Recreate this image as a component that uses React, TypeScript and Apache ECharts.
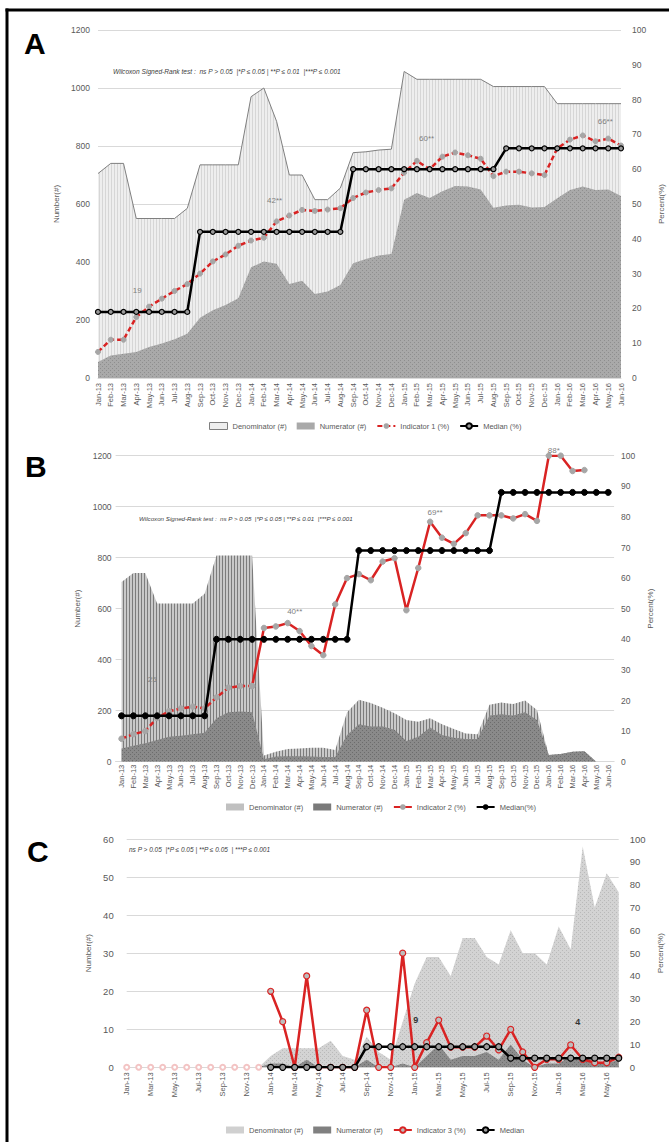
import React, { useEffect, useRef } from 'react';
import * as echarts from 'echarts';

// ---------- categories ----------
const months = [
  'Jan-13', 'Feb-13', 'Mar-13', 'Apr-13', 'May-13', 'Jun-13', 'Jul-13', 'Aug-13', 'Sep-13', 'Oct-13', 'Nov-13', 'Dec-13',
  'Jan-14', 'Feb-14', 'Mar-14', 'Apr-14', 'May-14', 'Jun-14', 'Jul-14', 'Aug-14', 'Sep-14', 'Oct-14', 'Nov-14', 'Dec-14',
  'Jan-15', 'Feb-15', 'Mar-15', 'Apr-15', 'May-15', 'Jun-15', 'Jul-15', 'Aug-15', 'Sep-15', 'Oct-15', 'Nov-15', 'Dec-15',
  'Jan-16', 'Feb-16', 'Mar-16', 'Apr-16', 'May-16', 'Jun-16',
];

// ---------- Panel A ----------
const denominatorA = [705, 740, 740, 550, 550, 550, 550, 585, 735, 735, 735, 735,
  970, 1000, 885, 700, 700, 615, 615, 655, 777, 780, 786, 789,
  1057, 1030, 1030, 1030, 1030, 1030, 1030, 1005, 1005, 1005, 1005, 1005,
  946, 946, 946, 946, 946, 946];
const numeratorA = [55, 78, 84, 90, 107, 119, 134, 153, 208, 234, 252, 275,
  382, 402, 394, 324, 335, 290, 298, 321, 396, 410, 422, 428,
  615, 638, 621, 644, 662, 660, 650, 587, 595, 597, 588, 590,
  620, 648, 660, 648, 650, 628];
const indicatorA = [7.5, 11, 11, 17.5, 20.5, 22.8, 25, 27, 30, 33.5, 35.5, 38,
  39.5, 40.3, 45, 46.7, 48.3, 48, 48.4, 48.8, 51.7, 53.3, 54, 54.5,
  59, 62.4, 60, 63.6, 64.8, 64, 63, 58, 59.3, 59.3, 58.8, 58.3,
  66, 68.5, 69.7, 68, 68.8, 66.8];
const medianA = [19, 19, 19, 19, 19, 19, 19, 19, 42, 42, 42, 42,
  42, 42, 42, 42, 42, 42, 42, 42, 60, 60, 60, 60,
  60, 60, 60, 60, 60, 60, 60, 60, 66, 66, 66, 66,
  66, 66, 66, 66, 66, 66];
const annotationsA = [
  { index: 3, text: '19' }, { index: 14, text: '42**' }, { index: 26, text: '60**' }, { index: 40, text: '66**' },
];

// ---------- Panel B ----------
const denominatorB = [705, 740, 740, 620, 620, 620, 620, 659, 809, 809, 809, 809,
  24, 39, 50, 52, 55, 55, 46, 194, 243, 230, 212, 190,
  164, 157, 170, 147, 128, 111, 108, 223, 232, 226, 240, 203,
  26, 30, 39, 41, 0, 0];
const numeratorB = [52, 63, 72, 85, 98, 102, 108, 114, 170, 194, 197, 194,
  10, 20, 21, 21, 20, 18, 18, 105, 147, 138, 138, 125,
  81, 98, 134, 105, 94, 89, 89, 181, 186, 181, 194, 164,
  26, 30, 39, 41, 0, 0];
const indicatorB = [7.5, 9, 10, 14.3, 16.5, 17.4, 18, 17.4, 21, 24.2, 24.7, 24.7,
  43.7, 44.2, 45.3, 42.7, 37.8, 34.8, 51.4, 60, 61.3, 59.3, 65.4, 66.5,
  49.5, 63.3, 78.4, 73.2, 71.2, 74.7, 80.5, 80.5, 80.5, 79.5, 80.9, 78.7,
  100, 100, 95, 95.3, null, null];
const medianB = [15, 15, 15, 15, 15, 15, 15, 15, 40, 40, 40, 40,
  40, 40, 40, 40, 40, 40, 40, 40, 69, 69, 69, 69,
  69, 69, 69, 69, 69, 69, 69, 69, 88, 88, 88, 88,
  88, 88, 88, 88, 88, 88];
const annotationsB = [
  { index: 3, text: '25' }, { index: 14, text: '40**' }, { index: 26, text: '69**' }, { index: 36, text: '88*' },
];

// ---------- Panel C ----------
const denominatorC = [0, 0, 0, 0, 0, 0, 0, 0, 0, 0, 0, 0,
  3, 5, 5, 5, 5, 7, 3, 2, 8, 4, 2, 12,
  22, 29, 29, 24, 34, 34, 29, 27, 36, 30, 30, 27,
  37, 31, 58, 42, 51, 46];
const numeratorC = [0, 0, 0, 0, 0, 0, 0, 0, 0, 0, 0, 0,
  1, 1, 0, 2, 0, 0, 0, 0, 2, 0, 0, 1,
  0, 3, 6, 2, 3, 3, 4, 2, 6, 2, 0, 1,
  1, 3, 2, 1, 1, 2];
const indicatorC = [0, 0, 0, 0, 0, 0, 0, 0, 0, 0, 0, 0,
  33.3, 20, 0, 40, 0, 0, 0, 0, 25, 0, 0, 50,
  0, 10.8, 20.7, 8.8, 8.8, 8.8, 13.7, 7.6, 16.6, 6.7, 0, 3.5,
  3.5, 9.8, 3.5, 2, 2, 4.4];
const medianC = [null, null, null, null, null, null, null, null, null, null, null, null,
  0, 0, 0, 0, 0, 0, 0, 0, 9, 9, 9, 9,
  9, 9, 9, 9, 9, 9, 9, 9, 4, 4, 4, 4,
  4, 4, 4, 4, 4, 4];
const annotationsC = [{ index: 24, text: '9' }, { index: 38, text: '4' }];

const wilcoxonText = 'Wilcoxon Signed-Rank test :  ns P > 0.05  |*P ≤ 0.05 | **P ≤ 0.01  |***P ≤ 0.001';
const pText = 'ns P > 0.05  |*P ≤ 0.05 | **P ≤ 0.05  | ***P ≤ 0.001';

// ---------- styles ----------
const FONT = '"Liberation Sans", Arial, sans-serif';
const GRID = '#d9d9d9';
const LABEL = '#595959';
const RED = '#d92323';

const offsetsA = [[1, -14], [-2, -24], [-3, -24], [-3, -20]];
const offsetsB = [[-5, -29], [7, -20], [5, -31], [5, -34]];
const offsetsC = [[1, -19], [-5, -28]];

function makePattern(bg: string, fg: string, kind: string) {
  const size = kind === 'dots' ? 4 : kind === 'dense' ? 2 : 3;
  const c = document.createElement('canvas');
  c.width = size;
  c.height = size;
  const ctx = c.getContext('2d');
  if (ctx) {
    ctx.fillStyle = bg;
    ctx.fillRect(0, 0, size, size);
    ctx.fillStyle = fg;
    if (kind === 'dots') {
      ctx.fillRect(0, 0, 1, 1);
      ctx.fillRect(2, 2, 1, 1);
    } else {
      ctx.fillRect(0, 0, 1, size);
    }
  }
  return { image: c.toDataURL(), repeat: 'repeat', imageWidth: size, imageHeight: size };
}

function labelled(values: any[], ann: { index: number; text: string }[], offsets: number[][], style: any) {
  return values.map((v, i) => {
    const k = ann.findIndex((a) => a.index === i);
    if (k < 0) return v;
    return {
      value: v,
      label: { show: true, position: 'top', distance: 0, formatter: ann[k].text, offset: offsets[k], ...style },
    };
  });
}

function xAxis(gridIndex: number, boundaryGap: boolean, interval: number, margin: number) {
  return {
    type: 'category', gridIndex, data: months, boundaryGap,
    axisLine: { lineStyle: { color: GRID } },
    axisTick: { show: false },
    axisLabel: { rotate: 90, fontSize: 7.5, color: LABEL, interval, margin, fontFamily: FONT },
  };
}

function yAxis(gridIndex: number, side: 'left' | 'right', max: number, interval: number, name: string,
  nameGap: number, margin: number, fontSize: number, split: boolean) {
  return {
    type: 'value', gridIndex, position: side, min: 0, max, interval,
    name, nameLocation: 'middle', nameGap,
    nameTextStyle: { fontSize: 8, color: LABEL, fontFamily: FONT },
    axisLine: { show: false }, axisTick: { show: false },
    axisLabel: { fontSize, color: LABEL, margin, fontFamily: FONT, formatter: (v: number) => String(v) },
    splitLine: { show: split, lineStyle: { color: GRID, width: 1 } },
  };
}

function App() {
  const ref = useRef<HTMLDivElement>(null);
  useEffect(() => {
    if (!ref.current) return;
    const chart = echarts.init(ref.current, null, { renderer: 'svg' });

    const patDenA = makePattern('#eeeeee', '#d6d6d6', 'v');
    const patNumA = makePattern('#a9a9a9', '#8e8e8e', 'dots');
    const patDenB = makePattern('#c9c9c9', '#7c7c7c', 'v');
    const patNumB = makePattern('#8a8a8a', '#6c6c6c', 'dots');
    const patDenC = makePattern('#d3d3d3', '#b9b9b9', 'dots');
    const patNumC = makePattern('#8c8c8c', '#6e6e6e', 'dots');

    const annStyle = { fontSize: 8, color: '#7f7f7f', fontFamily: FONT };
    const annStyleC = { fontSize: 9, color: '#333333', fontWeight: 'bold', fontFamily: FONT };

    const legendBase = {
      orient: 'horizontal', itemWidth: 18, itemHeight: 7, itemGap: 10,
      textStyle: { fontSize: 7.5, color: LABEL, fontFamily: FONT },
      formatter: (n: string) => n.split('|')[0],
      selectedMode: false,
    };

    const areaSeries = (name: string, data: number[], xi: number, yi: number, pat: any, color: string, outline: boolean) => ({
      name, type: 'line', xAxisIndex: xi, yAxisIndex: yi, data,
      symbol: 'none', showSymbol: false,
      lineStyle: outline ? { color: '#7f7f7f', width: 1 } : { width: 0, color },
      itemStyle: { color },
      areaStyle: { color: pat, opacity: 1 },
      silent: true, z: 1,
    });

    const option: any = {
      animation: false,
      textStyle: { fontFamily: FONT },
      grid: [
        { left: 98, top: 30, width: 523, height: 348, outerBoundsMode: 'none' },
        { left: 115.6, top: 455.7, width: 498.5, height: 306, outerBoundsMode: 'none' },
        { left: 126.7, top: 839, width: 492, height: 228.3, outerBoundsMode: 'none' },
      ],
      xAxis: [xAxis(0, false, 0, 5), xAxis(1, true, 0, 3), xAxis(2, false, 1, 5)],
      yAxis: [
        yAxis(0, 'left', 1200, 200, 'Number(#)', 31, 8, 8.5, true),
        yAxis(0, 'right', 100, 10, 'Percent(%)', 31, 11, 8.5, false),
        yAxis(1, 'left', 1200, 200, 'Number(#)', 18, 4, 8.5, true),
        yAxis(1, 'right', 100, 10, 'Percent(%)', 25, 7, 8.5, false),
        yAxis(2, 'left', 60, 10, 'Number(#)', 27, 13, 9.5, true),
        yAxis(2, 'right', 100, 10, 'Percent(%)', 34, 11, 9.5, false),
      ],
      legend: [
        {
          ...legendBase, left: 204, top: 417,
          data: [
            { name: 'Denominator (#)|A', icon: 'rect', itemStyle: { color: '#eeeeee', borderColor: '#7f7f7f', borderWidth: 1 } },
            { name: 'Numerator (#)|A', icon: 'rect', itemStyle: { color: '#a9a9a9', borderWidth: 0 } },
            'Indicator 1 (%)', 'Median (%)',
          ],
        },
        {
          ...legendBase, left: 221, top: 798,
          data: [
            { name: 'Denominator (#)|B', icon: 'rect', itemStyle: { color: '#c0c0c0', borderWidth: 0 } },
            { name: 'Numerator (#)|B', icon: 'rect', itemStyle: { color: '#7a7a7a', borderWidth: 0 } },
            'Indicator 2 (%)', 'Median(%)',
          ],
        },
        {
          ...legendBase, left: 221, top: 1121,
          data: [
            { name: 'Denominator (#)|C', icon: 'rect', itemStyle: { color: '#d0d0d0', borderWidth: 0 } },
            { name: 'Numerator (#)|C', icon: 'rect', itemStyle: { color: '#808080', borderWidth: 0 } },
            'Indicator 3 (%)', 'Median',
          ],
        },
      ],
      series: [
        // Panel A
        areaSeries('Denominator (#)|A', denominatorA, 0, 0, patDenA, '#eeeeee', true),
        areaSeries('Numerator (#)|A', numeratorA, 0, 0, patNumA, '#a9a9a9', false),
        {
          name: 'Indicator 1 (%)', type: 'line', xAxisIndex: 0, yAxisIndex: 1, data: indicatorA,
          symbol: 'circle', symbolSize: 5, showSymbol: true,
          lineStyle: { color: RED, width: 2.5, type: [5, 3] },
          itemStyle: { color: '#a6a6a6', borderColor: '#a6a6a6' }, z: 3,
        },
        {
          name: 'Median (%)', type: 'line', xAxisIndex: 0, yAxisIndex: 1,
          data: labelled(medianA, annotationsA, offsetsA, annStyle),
          symbol: 'circle', symbolSize: 5, showSymbol: true,
          lineStyle: { color: '#000', width: 2.5 },
          itemStyle: { color: '#9a9a9a', borderColor: '#000', borderWidth: 1.2 }, z: 4,
        },
        // Panel B
        areaSeries('Denominator (#)|B', denominatorB, 1, 2, patDenB, '#c0c0c0', false),
        areaSeries('Numerator (#)|B', numeratorB, 1, 2, patNumB, '#7a7a7a', false),
        {
          name: 'Indicator 2 (%)', type: 'line', xAxisIndex: 1, yAxisIndex: 3,
          data: indicatorB.map((v, i) => (i >= 11 ? v : null)),
          symbol: 'circle', symbolSize: 5.5, showSymbol: true,
          lineStyle: { color: RED, width: 2.5 },
          itemStyle: { color: '#a6a6a6', borderColor: '#a6a6a6' }, z: 3,
        },
        {
          name: 'Indicator 2 (%)|dashed', type: 'line', xAxisIndex: 1, yAxisIndex: 3,
          data: indicatorB.map((v, i) => (i <= 11 ? v : null)),
          symbol: 'circle', symbolSize: 5.5, showSymbol: true,
          lineStyle: { color: RED, width: 2.5, type: [5, 3] },
          itemStyle: { color: '#a6a6a6', borderColor: '#a6a6a6' }, z: 3,
        },
        {
          name: 'Median(%)', type: 'line', xAxisIndex: 1, yAxisIndex: 3,
          data: labelled(medianB, annotationsB, offsetsB, annStyle),
          symbol: 'circle', symbolSize: 6, showSymbol: true,
          lineStyle: { color: '#000', width: 2.5 },
          itemStyle: { color: '#000', borderColor: '#000' }, z: 4,
        },
        // Panel C
        areaSeries('Denominator (#)|C', denominatorC, 2, 4, patDenC, '#d0d0d0', false),
        areaSeries('Numerator (#)|C', numeratorC, 2, 4, patNumC, '#808080', false),
        {
          name: 'Indicator 3 (%)|faint', type: 'line', xAxisIndex: 2, yAxisIndex: 5,
          data: indicatorC.map((v, i) => (i < 12 ? v : null)),
          symbol: 'emptyCircle', symbolSize: 5, showSymbol: true,
          lineStyle: { opacity: 0, width: 0 },
          itemStyle: { color: '#f3c4c4', borderColor: '#f3c4c4', borderWidth: 1 }, z: 2,
        },
        {
          name: 'Indicator 3 (%)', type: 'line', xAxisIndex: 2, yAxisIndex: 5,
          data: indicatorC.map((v, i) => (i >= 12 ? v : null)),
          symbol: 'circle', symbolSize: 6, showSymbol: true,
          lineStyle: { color: RED, width: 2.5 },
          itemStyle: { color: '#bdbdbd', borderColor: RED, borderWidth: 1.2 }, z: 3,
        },
        {
          name: 'Median', type: 'line', xAxisIndex: 2, yAxisIndex: 5,
          data: labelled(medianC, annotationsC, offsetsC, annStyleC),
          symbol: 'circle', symbolSize: 6, showSymbol: true,
          lineStyle: { color: '#000', width: 2.5 },
          itemStyle: { color: '#9a9a9a', borderColor: '#000', borderWidth: 1.2 }, z: 4,
        },
      ],
      graphic: [
        { type: 'line', silent: true, shape: { x1: 5.5, y1: 10, x2: 669, y2: 10 }, style: { stroke: '#000', lineWidth: 3 } },
        { type: 'line', silent: true, shape: { x1: 7, y1: 8.5, x2: 7, y2: 1142 }, style: { stroke: '#000', lineWidth: 3 } },
        { type: 'text', x: 24, y: 43, style: { text: 'A', fontSize: 30, fontWeight: 'bold', fontFamily: FONT, fill: '#000', verticalAlign: 'middle' } },
        { type: 'text', x: 25, y: 466, style: { text: 'B', fontSize: 30, fontWeight: 'bold', fontFamily: FONT, fill: '#000', verticalAlign: 'middle' } },
        { type: 'text', x: 27, y: 851, style: { text: 'C', fontSize: 30, fontWeight: 'bold', fontFamily: FONT, fill: '#000', verticalAlign: 'middle' } },
        { type: 'text', x: 113, y: 71, style: { text: wilcoxonText, fontSize: 6.6, fontStyle: 'italic', fontFamily: FONT, fill: '#404040', verticalAlign: 'middle' } },
        { type: 'text', x: 139, y: 518, style: { text: wilcoxonText, fontSize: 6.2, fontStyle: 'italic', fontFamily: FONT, fill: '#404040', verticalAlign: 'middle' } },
        { type: 'text', x: 129, y: 849, style: { text: pText, fontSize: 6.5, fontStyle: 'italic', fontFamily: FONT, fill: '#404040', verticalAlign: 'middle' } },
      ],
    };
    chart.setOption(option);
    return () => chart.dispose();
  }, []);
  return (
    <div
      ref={ref}
      style={{ position: 'absolute', left: 0, top: 0, width: 669, height: 1142, background: '#fff' }}
    />
  );
}

export default App;
